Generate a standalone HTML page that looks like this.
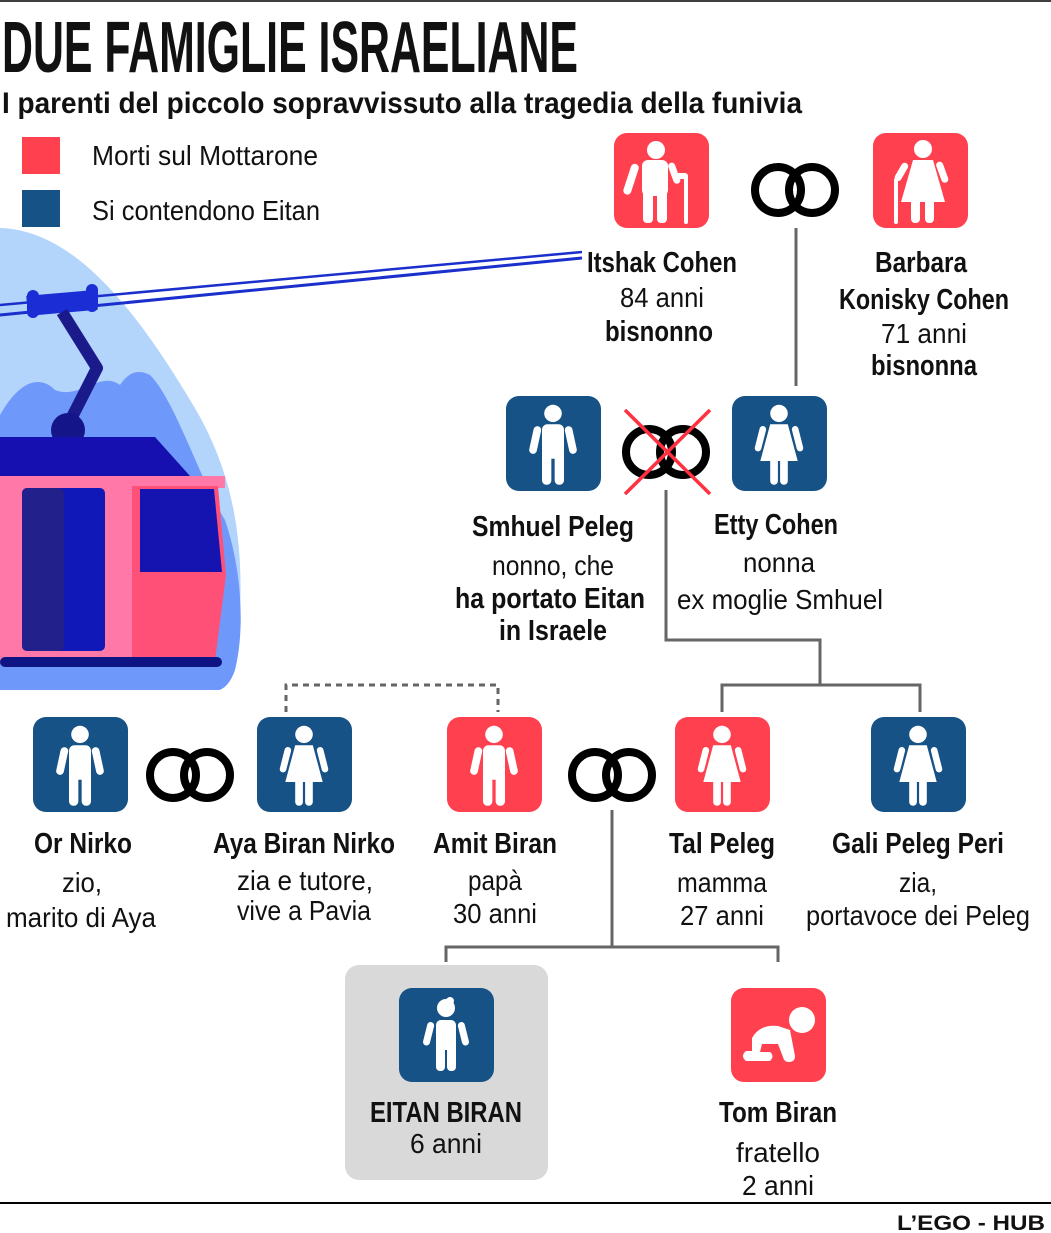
<!DOCTYPE html>
<html><head><meta charset="utf-8"><style>
html,body{margin:0;padding:0;background:#fff}
svg{display:block}
text{font-family:"Liberation Sans Narrow","Liberation Sans",sans-serif;fill:#111}
.b{font-weight:bold}
.n{font-size:29px;font-weight:bold}
.r{font-size:28px}
</style></head><body>
<svg width="1051" height="1233" viewBox="0 0 1051 1233" xmlns="http://www.w3.org/2000/svg">
<defs>
<g id="man0"><circle cx="0" cy="-32" r="8"/><rect x="-10" y="-22" width="20" height="32" rx="5"/><rect x="-10" y="0" width="8.5" height="34" rx="4"/><rect x="1.5" y="0" width="8.5" height="34" rx="4"/><rect x="-17" y="-20" width="7" height="26" rx="3.5" transform="rotate(12 -13 -20)"/><rect x="10" y="-20" width="7" height="26" rx="3.5" transform="rotate(-12 13 -20)"/></g>
<g id="woman0"><circle cx="0" cy="-32" r="8"/><path d="M-8 -22 H8 L17 12 H-17 Z"/><rect x="-8" y="5" width="7" height="29" rx="3.5"/><rect x="1" y="5" width="7" height="29" rx="3.5"/><rect x="-17" y="-20" width="6" height="24" rx="3" transform="rotate(14 -13 -20)"/><rect x="11" y="-20" width="6" height="24" rx="3" transform="rotate(-14 13 -20)"/></g>
<g id="man"><use href="#man0" transform="scale(1.1 1.08)"/></g>
<g id="woman"><use href="#woman0" transform="scale(1.1 1.08)"/></g>
<g id="rings" fill="none" stroke="#000" stroke-width="8"><circle cx="-17" cy="0" r="23"/><circle cx="17" cy="0" r="23"/></g>
</defs>
<line x1="0" y1="1" x2="1051" y2="1" stroke="#000" stroke-width="1.5"/>
<text x="2" y="72" class="b" font-size="72" textLength="576" lengthAdjust="spacingAndGlyphs">DUE FAMIGLIE ISRAELIANE</text>
<text x="2" y="113" class="b" font-size="30" textLength="800" lengthAdjust="spacingAndGlyphs">I parenti del piccolo sopravvissuto alla tragedia della funivia</text>
<rect x="22" y="137" width="38" height="37" fill="#ff404f"/>
<text x="92" y="165" font-size="28" textLength="226" lengthAdjust="spacingAndGlyphs">Morti sul Mottarone</text>
<rect x="22" y="190" width="38" height="37" fill="#165285"/>
<text x="92" y="220" font-size="28" textLength="228" lengthAdjust="spacingAndGlyphs">Si contendono Eitan</text>

<path d="M0 228 C70 230 130 300 190 400 C240 480 245 560 238 640 C234 670 225 688 220 690 L0 690 Z" fill="#b3d4fb"/>
<path d="M0 415 C20 380 40 375 55 390 C80 400 100 370 120 385 C130 370 140 370 150 375 C175 400 200 480 225 520 C242 570 245 630 235 670 C230 685 222 690 218 690 L0 690 Z" fill="#6f98fb"/>
<line x1="0" y1="305" x2="582" y2="252" stroke="#1a2fcc" stroke-width="2.5"/>
<line x1="0" y1="315" x2="582" y2="258" stroke="#1a2fcc" stroke-width="3"/>
<rect x="27" y="293" width="70" height="20" fill="#1b2ed6" transform="rotate(-5 60 303)"/>
<rect x="27" y="290" width="12" height="28" rx="6" fill="#1b2ed6"/>
<rect x="86" y="284" width="12" height="28" rx="6" fill="#1b2ed6"/>
<path d="M62 312 L97 368 L68 425" fill="none" stroke="#1a1a8a" stroke-width="12" stroke-linejoin="round"/>
<circle cx="68" cy="430" r="17" fill="#15158a"/>
<path d="M0 437 H155 L190 476 H0 Z" fill="#1610b0"/>
<rect x="0" y="476" width="225" height="12" fill="#ff78a8"/>
<rect x="0" y="486" width="135" height="175" fill="#ff78a8"/>
<path d="M132 486 H218 L226 575 L215 661 H132 Z" fill="#ff5078"/>
<rect x="22" y="488" width="83" height="163" rx="5" fill="#1018b8"/>
<rect x="22" y="488" width="42" height="163" rx="5" fill="#22208a"/>
<path d="M140 489 H214 L222 572 H140 Z" fill="#1614b0"/>
<rect x="0" y="657" width="222" height="10" rx="5" fill="#0f1485"/>

<g stroke="#666" stroke-width="3" fill="none">
<line x1="796" y1="228" x2="796" y2="386"/>
<polyline points="666,490 666,640 820,640 820,685"/>
<polyline points="722,712 722,685 920,685 920,712"/>
<polyline points="612,810 612,947"/>
<polyline points="446,962 446,947 778,947 778,962"/>
</g>
<polyline points="286,712 286,685 498,685 498,712" stroke="#666" stroke-width="3" fill="none" stroke-dasharray="6,5"/>

<rect x="614" y="133" width="95" height="95" rx="13" fill="#ff404f"/>
<g fill="#fff"><circle cx="656" cy="150" r="9"/><rect x="642" y="160" width="26" height="36" rx="6"/><rect x="643" y="185" width="10" height="38" rx="4"/><rect x="657" y="185" width="10" height="38" rx="4"/><rect x="632" y="164" width="8" height="32" rx="4" transform="rotate(18 636 164)"/><rect x="667" y="163" width="7" height="22" rx="3.5" transform="rotate(-20 670 163)"/><rect x="684" y="175" width="4" height="49" rx="2"/><rect x="676" y="173" width="12" height="6" rx="3"/></g>
<rect x="873" y="133" width="95" height="95" rx="13" fill="#ff404f"/>
<g fill="#fff"><circle cx="923" cy="149" r="9"/><path d="M913 160 H933 L945 202 H901 Z"/><rect x="911" y="198" width="9" height="25" rx="4"/><rect x="925" y="198" width="9" height="25" rx="4"/><rect x="935" y="162" width="7" height="22" rx="3.5" transform="rotate(-20 938 162)"/><rect x="903" y="163" width="7" height="20" rx="3.5" transform="rotate(30 906 163)"/><rect x="894" y="178" width="4" height="46" rx="2"/></g>
<use href="#rings" x="795" y="190"/>
<text class="n" x="662" y="272" text-anchor="middle" textLength="150" lengthAdjust="spacingAndGlyphs">Itshak Cohen</text>
<text class="r" x="662" y="307" text-anchor="middle" textLength="84" lengthAdjust="spacingAndGlyphs">84 anni</text>
<text class="n" x="659" y="341" text-anchor="middle" textLength="108" lengthAdjust="spacingAndGlyphs">bisnonno</text>
<text class="n" x="921" y="272" text-anchor="middle" textLength="92" lengthAdjust="spacingAndGlyphs">Barbara</text>
<text class="n" x="924" y="309" text-anchor="middle" textLength="170" lengthAdjust="spacingAndGlyphs">Konisky Cohen</text>
<text class="r" x="924" y="343" text-anchor="middle" textLength="86" lengthAdjust="spacingAndGlyphs">71 anni</text>
<text class="n" x="924" y="375" text-anchor="middle" textLength="106" lengthAdjust="spacingAndGlyphs">bisnonna</text>

<rect x="506" y="396" width="95" height="95" rx="13" fill="#165285"/>
<use href="#man" x="553" y="448" fill="#fff"/>
<rect x="732" y="396" width="95" height="95" rx="13" fill="#165285"/>
<use href="#woman" x="779" y="448" fill="#fff"/>
<use href="#rings" x="666" y="452"/>
<line x1="625" y1="410" x2="710" y2="494" stroke="#ff3040" stroke-width="3.5"/>
<line x1="710" y1="410" x2="625" y2="494" stroke="#ff3040" stroke-width="3.5"/>
<text class="n" x="553" y="536" text-anchor="middle" textLength="162" lengthAdjust="spacingAndGlyphs">Smhuel Peleg</text>
<text class="r" x="553" y="575" text-anchor="middle" textLength="122" lengthAdjust="spacingAndGlyphs">nonno, che</text>
<text class="n" x="550" y="608" text-anchor="middle" textLength="190" lengthAdjust="spacingAndGlyphs">ha portato Eitan</text>
<text class="n" x="553" y="640" text-anchor="middle" textLength="108" lengthAdjust="spacingAndGlyphs">in Israele</text>
<text class="n" x="776" y="534" text-anchor="middle" textLength="124" lengthAdjust="spacingAndGlyphs">Etty Cohen</text>
<text class="r" x="779" y="572" text-anchor="middle" textLength="72" lengthAdjust="spacingAndGlyphs">nonna</text>
<text class="r" x="780" y="609" text-anchor="middle" textLength="206" lengthAdjust="spacingAndGlyphs">ex moglie Smhuel</text>

<rect x="33" y="717" width="95" height="95" rx="13" fill="#165285"/><use href="#man" x="80" y="769" fill="#fff"/>
<rect x="257" y="717" width="95" height="95" rx="13" fill="#165285"/><use href="#woman" x="304" y="769" fill="#fff"/>
<rect x="447" y="717" width="95" height="95" rx="13" fill="#ff404f"/><use href="#man" x="494" y="769" fill="#fff"/>
<rect x="675" y="717" width="95" height="95" rx="13" fill="#ff404f"/><use href="#woman" x="722" y="769" fill="#fff"/>
<rect x="871" y="717" width="95" height="95" rx="13" fill="#165285"/><use href="#woman" x="918" y="769" fill="#fff"/>
<use href="#rings" x="190" y="775"/>
<use href="#rings" x="612" y="775"/>
<text class="n" x="83" y="853" text-anchor="middle" textLength="98" lengthAdjust="spacingAndGlyphs">Or Nirko</text>
<text class="r" x="82" y="892" text-anchor="middle" textLength="40" lengthAdjust="spacingAndGlyphs">zio,</text>
<text class="r" x="81" y="927" text-anchor="middle" textLength="150" lengthAdjust="spacingAndGlyphs">marito di Aya</text>
<text class="n" x="304" y="853" text-anchor="middle" textLength="182" lengthAdjust="spacingAndGlyphs">Aya Biran Nirko</text>
<text class="r" x="305" y="890" text-anchor="middle" textLength="136" lengthAdjust="spacingAndGlyphs">zia e tutore,</text>
<text class="r" x="304" y="920" text-anchor="middle" textLength="134" lengthAdjust="spacingAndGlyphs">vive a Pavia</text>
<text class="n" x="495" y="853" text-anchor="middle" textLength="124" lengthAdjust="spacingAndGlyphs">Amit Biran</text>
<text class="r" x="495" y="890" text-anchor="middle" textLength="54" lengthAdjust="spacingAndGlyphs">papà</text>
<text class="r" x="495" y="923" text-anchor="middle" textLength="84" lengthAdjust="spacingAndGlyphs">30 anni</text>
<text class="n" x="722" y="853" text-anchor="middle" textLength="106" lengthAdjust="spacingAndGlyphs">Tal Peleg</text>
<text class="r" x="722" y="892" text-anchor="middle" textLength="90" lengthAdjust="spacingAndGlyphs">mamma</text>
<text class="r" x="722" y="925" text-anchor="middle" textLength="84" lengthAdjust="spacingAndGlyphs">27 anni</text>
<text class="n" x="918" y="853" text-anchor="middle" textLength="172" lengthAdjust="spacingAndGlyphs">Gali Peleg Peri</text>
<text class="r" x="918" y="892" text-anchor="middle" textLength="38" lengthAdjust="spacingAndGlyphs">zia,</text>
<text class="r" x="918" y="925" text-anchor="middle" textLength="224" lengthAdjust="spacingAndGlyphs">portavoce dei Peleg</text>

<rect x="345" y="965" width="203" height="215" rx="14" fill="#d9d9d9"/>
<rect x="399" y="988" width="95" height="94" rx="13" fill="#165285"/>
<g fill="#fff"><circle cx="446" cy="1008" r="9"/><circle cx="450" cy="1001" r="4"/><rect x="436" y="1020" width="20" height="30" rx="5"/><rect x="436" y="1040" width="9" height="31" rx="4"/><rect x="447" y="1040" width="9" height="31" rx="4"/><rect x="428" y="1022" width="7" height="24" rx="3.5" transform="rotate(14 431 1022)"/><rect x="457" y="1022" width="7" height="24" rx="3.5" transform="rotate(-14 461 1022)"/></g>
<text class="n" x="446" y="1122" text-anchor="middle" textLength="152" lengthAdjust="spacingAndGlyphs">EITAN BIRAN</text>
<text class="r" x="446" y="1153" text-anchor="middle" textLength="72" lengthAdjust="spacingAndGlyphs">6 anni</text>
<rect x="731" y="988" width="95" height="94" rx="13" fill="#ff404f"/>
<g fill="#fff"><circle cx="802" cy="1020" r="13"/><path d="M752 1038 Q760 1024 778 1026 L790 1030 L795 1056 Q795 1062 789 1062 Q784 1062 783 1057 L778 1044 L762 1044 L760 1052 L770 1052 Q775 1056 770 1061 L746 1061 Q740 1056 746 1051 L752 1051 Z"/></g>
<text class="n" x="778" y="1122" text-anchor="middle" textLength="118" lengthAdjust="spacingAndGlyphs">Tom Biran</text>
<text class="r" x="778" y="1162" text-anchor="middle" textLength="84" lengthAdjust="spacingAndGlyphs">fratello</text>
<text class="r" x="778" y="1195" text-anchor="middle" textLength="72" lengthAdjust="spacingAndGlyphs">2 anni</text>

<line x1="0" y1="1203" x2="1051" y2="1203" stroke="#000" stroke-width="2"/>
<text x="1045" y="1230" class="b" font-size="21" text-anchor="end" textLength="148" lengthAdjust="spacingAndGlyphs">L’EGO - HUB</text>
</svg>
</body></html>
